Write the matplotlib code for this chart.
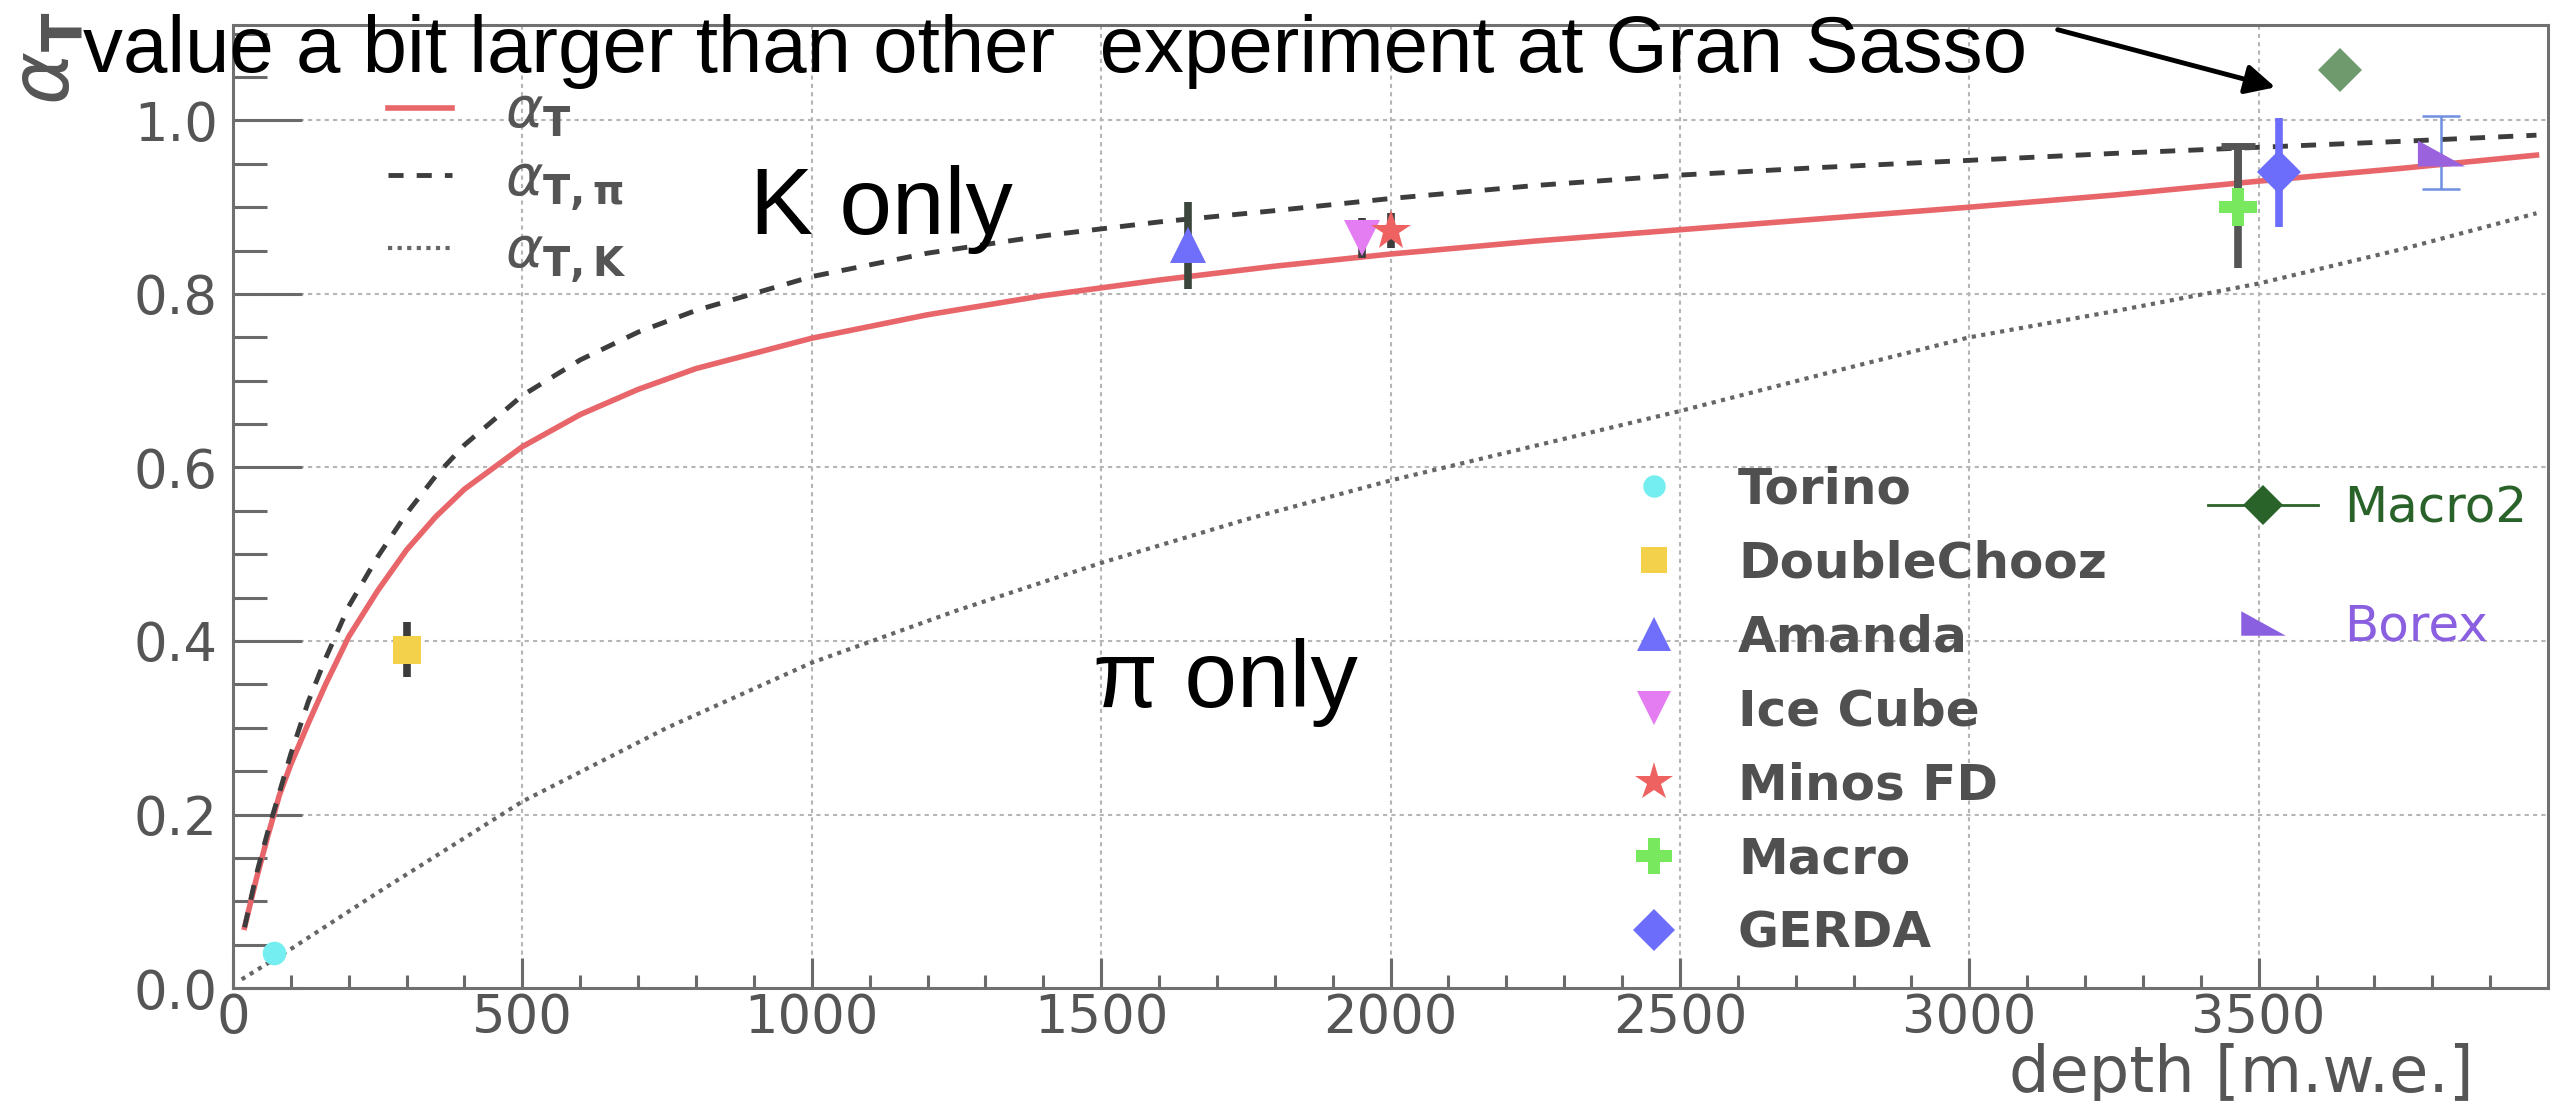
import matplotlib
matplotlib.use("Agg")
import matplotlib.pyplot as plt
from matplotlib.lines import Line2D

plt.rcParams['font.family'] = ['DejaVu Sans']
plt.rcParams['mathtext.fontset'] = 'dejavusans'

# --- theory curves ---
curve_depth = [20, 40, 60, 80, 100, 130, 160, 200, 250, 300, 350, 400, 500, 600, 700,
               800, 1000, 1200, 1400, 1600, 1800, 2000, 2250, 2500, 2750, 3000, 3250,
               3500, 3750, 3980]
alpha_T = [0.070, 0.125, 0.175, 0.222, 0.258, 0.305, 0.350, 0.405, 0.458, 0.505, 0.543,
           0.575, 0.624, 0.661, 0.690, 0.714, 0.749, 0.776, 0.798, 0.816, 0.832, 0.846,
           0.861, 0.874, 0.887, 0.900, 0.914, 0.930, 0.945, 0.960]
alpha_T_pi = [0.070, 0.130, 0.180, 0.225, 0.270, 0.330, 0.380, 0.440, 0.497, 0.547, 0.590,
              0.626, 0.683, 0.724, 0.756, 0.781, 0.820, 0.847, 0.867, 0.883, 0.896, 0.910,
              0.925, 0.937, 0.946, 0.954, 0.962, 0.969, 0.976, 0.983]
kaon_depth = [15, 100, 250, 500, 750, 1000, 1250, 1500, 1750, 2000, 2250, 2500, 2750,
              3000, 3250, 3500, 3750, 3980]
alpha_T_K = [0.010, 0.045, 0.110, 0.215, 0.300, 0.375, 0.435, 0.490, 0.540, 0.585, 0.625,
             0.665, 0.708, 0.750, 0.780, 0.812, 0.852, 0.893]

# --- experiments ---
exp_names = ["Torino", "DoubleChooz", "Amanda", "Ice Cube", "Minos FD", "Macro", "GERDA"]
exp_depth = [70, 300, 1650, 1950, 2000, 3465, 3535]
exp_alpha = [0.040, 0.390, 0.856, 0.865, 0.873, 0.900, 0.940]
exp_err = [0.0, 0.032, 0.050, 0.023, 0.020, 0.070, 0.063]

macro2_depth = [3640]
macro2_alpha = [1.058]
macro2_err = [0.021]

borex_depth = [3815]
borex_alpha = [0.963]
borex_err = [0.042]

exp_marker = ["o", "s", "^", "v", "*", "P", "D"]
exp_color = ["#74eef0", "#f3d14a", "#6f6ffb", "#e47cf2", "#ee6262", "#78e85e", "#6d6dfb"]
exp_ecolor = ["#404040", "#3c3c3c", "#3c463c", "#3c3c3c", "#3c3c3c", "#555555", "#6d6dfb"]
exp_ms = [17, 20, 26, 26, 30, 28, 22]
right_tri = [(-1, -0.55), (1, -0.55), (-1, 0.55)]

fig = plt.figure(figsize=(25.66, 11.01), dpi=100)
ax = fig.add_axes([0.0908, 0.1026, 0.9022, 0.8747])

ax.plot(curve_depth, alpha_T, color="#e8666a", lw=4, zorder=3)
ax.plot(curve_depth, alpha_T_pi, color="#3d3d3d", lw=3.5, ls=(0, (3.1, 2.7)), zorder=3)
ax.plot(kaon_depth, alpha_T_K, color="#666666", lw=3, ls=(0, (1, 1.3)), zorder=3)

for i in range(len(exp_names)):
    ax.errorbar(exp_depth[i], exp_alpha[i], yerr=exp_err[i] if exp_err[i] > 0 else None,
                fmt=exp_marker[i], color=exp_color[i], ecolor=exp_ecolor[i], elinewidth=5.5,
                ms=exp_ms[i], mew=0, capsize=0, zorder=5)
    if exp_names[i] == "Macro":
        # ROOT draws only the upper cap here (lower one hides under the marker)
        ax.errorbar(exp_depth[i], exp_alpha[i], yerr=[[0], [exp_err[i]]], fmt="none",
                    ecolor=exp_ecolor[i], elinewidth=5.5, capsize=12, capthick=5, zorder=4)
ax.errorbar(macro2_depth, macro2_alpha, yerr=macro2_err, fmt="D", color="#6e9a6e",
            ecolor="#8aa08a", elinewidth=1.5, capsize=14, capthick=1.5, ms=22, mew=0, zorder=5)
ax.errorbar(borex_depth, borex_alpha, yerr=borex_err, fmt="none", ecolor="#6f8fe0",
            elinewidth=1.8, capsize=14, capthick=1.8, zorder=4)
ax.plot(borex_depth, borex_alpha, ls="none", marker=right_tri, color="#9a62dc", ms=34,
        mew=0, zorder=5)

ax.set_xlim(0, 4000)
ax.set_ylim(0, 1.11)
ax.set_xticks([0, 500, 1000, 1500, 2000, 2500, 3000, 3500])
ax.set_xticks(range(0, 4000, 100), minor=True)
ax.set_yticks([0.0, 0.2, 0.4, 0.6, 0.8, 1.0])
ax.set_yticklabels(["0.0", "0.2", "0.4", "0.6", "0.8", "1.0"])
ax.set_yticks([i * 0.05 for i in range(23)], minor=True)
ax.grid(True, which="major", color="#b5b5b5", lw=1.5, ls=(0, (2, 2)))
ax.tick_params(which="both", direction="in", color="#6a6a6a", width=2.2,
               labelcolor="#555555", labelsize=38)
ax.tick_params(axis="x", which="major", length=21.6, pad=3)
ax.tick_params(axis="x", which="minor", length=9.4)
ax.tick_params(axis="y", which="major", length=50, pad=11)
ax.tick_params(axis="y", which="minor", length=24.5)
for s in ax.spines.values():
    s.set_color("#707070")
    s.set_linewidth(2.2)

# legend of the curves
leg1 = ax.legend(handles=[
    Line2D([], [], color="#e8666a", lw=4),
    Line2D([], [], color="#3d3d3d", lw=3.5, ls=(0, (3.1, 2.7))),
    Line2D([], [], color="#666666", lw=3, ls=(0, (1, 1.3)))],
    labels=[r"$\alpha_{\mathbf{T}}$", r"$\alpha_{\mathbf{T,\pi}}$", r"$\alpha_{\mathbf{T,K}}$"],
    loc="upper left", bbox_to_anchor=(0.067, 0.938), frameon=False, fontsize=41,
    handlelength=1.13, handletextpad=0.92, labelspacing=0.22, labelcolor="#555555",
    borderpad=0, borderaxespad=0)
ax.add_artist(leg1)

# legend of the experiments
exp_handles = [Line2D([], [], ls="none", marker=exp_marker[i], color=exp_color[i],
                      ms=exp_ms[i] * 0.95, mew=0) for i in range(len(exp_names))]
leg2 = ax.legend(handles=exp_handles, labels=exp_names, loc="upper left",
                 bbox_to_anchor=(0.603, 0.543), frameon=False,
                 prop={"size": 36, "weight": "bold"}, handlelength=1.0,
                 handletextpad=1.18, labelspacing=0.52, labelcolor="#505050",
                 borderpad=0, borderaxespad=0)
ax.add_artist(leg2)

leg3 = ax.legend(handles=[
    Line2D([], [], color="#2a632a", lw=2, marker="D", ms=20, mew=0),
    Line2D([], [], ls="none", marker=right_tri, color="#8a5fe0", ms=32, mew=0)],
    labels=["Macro2", "Borex"], loc="upper left", bbox_to_anchor=(0.853, 0.523),
    frameon=False, fontsize=36, handlelength=2.2, handletextpad=0.52, labelspacing=1.41,
    labelcolor=["#2a632a", "#8a5fe0"], borderpad=0, borderaxespad=0)

# axis titles, ROOT style
fig.text(48 / 2566, 1 - 12 / 1101, r"$\alpha_{\mathbf{T}}$", rotation=90, ha="center",
         va="top", fontsize=58, color="#555555")
fig.text(2474 / 2566, 9 / 1101, "depth [m.w.e.]", ha="right", va="baseline",
         fontsize=46, color="#555555")

# annotations
fig.text(83 / 2566, 1 - 72 / 1101, "value a bit larger than other  experiment at Gran Sasso",
         fontsize=57.5, family="Liberation Sans", va="baseline", ha="left", color="black",
         zorder=10)
ax.annotate("", xy=(2278 / 2566, 1 - 88 / 1101), xytext=(2055 / 2566, 1 - 29 / 1101),
            xycoords="figure fraction", textcoords="figure fraction",
            arrowprops=dict(arrowstyle="-|>", lw=3.5, color="black", mutation_scale=45))
ax.text(893, 0.869, "K only", fontsize=68, family="Liberation Sans", va="baseline")
ax.text(1486, 0.324, "\u03c0 only", fontsize=68, family="Liberation Sans", va="baseline")

fig.savefig("out.png", dpi=100)
